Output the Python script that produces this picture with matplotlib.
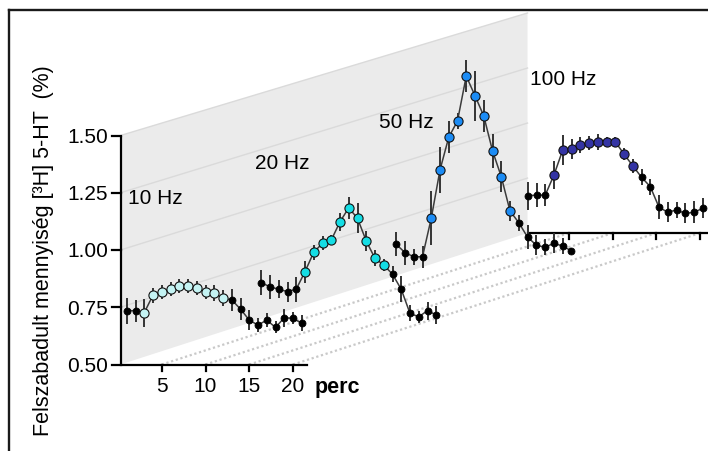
import matplotlib
matplotlib.use('Agg')
import matplotlib.pyplot as plt
from matplotlib.patches import Polygon
from matplotlib.lines import Line2D

plt.rcParams['font.family'] = ['Liberation Sans', 'DejaVu Sans']

# ---------------- data ----------------
minutes = list(range(1, 22))
hz_labels = ['10 Hz', '20 Hz', '50 Hz', '100 Hz']
y_ticks = [0.50, 0.75, 1.00, 1.25, 1.50]
y_tick_labels = ['0.50', '0.75', '1.00', '1.25', '1.50']
x_ticks = [5, 10, 15, 20]
x_tick_labels = ['5', '10', '15', '20']
x_unit = 'perc'
y_label = 'Felszabadult mennyiség [³H] 5-HT  (%)'

release_10 = [0.735, 0.735, 0.726, 0.803, 0.818, 0.828, 0.843, 0.843, 0.833, 0.818, 0.811,
              0.789, 0.782, 0.742, 0.694, 0.672, 0.694, 0.662, 0.704, 0.702, 0.680]
err_10 = [0.057, 0.048, 0.061, 0.033, 0.031, 0.031, 0.031, 0.031, 0.031, 0.031, 0.035,
          0.035, 0.048, 0.048, 0.044, 0.031, 0.031, 0.026, 0.039, 0.026, 0.035]
release_20 = [0.666, 0.648, 0.637, 0.627, 0.638, 0.714, 0.799, 0.838, 0.852, 0.932, 0.993,
              0.947, 0.848, 0.772, 0.743, 0.703, 0.637, 0.532, 0.517, 0.544, 0.525]
err_20 = [0.055, 0.052, 0.039, 0.044, 0.055, 0.048, 0.033, 0.031, 0.022, 0.039, 0.048,
          0.066, 0.044, 0.035, 0.026, 0.035, 0.057, 0.035, 0.026, 0.039, 0.039]
release_50 = [0.642, 0.606, 0.588, 0.588, 0.756, 0.967, 1.110, 1.181, 1.377, 1.291, 1.203,
              1.051, 0.938, 0.788, 0.737, 0.674, 0.639, 0.629, 0.647, 0.635, 0.614]
err_50 = [0.052, 0.052, 0.035, 0.048, 0.118, 0.100, 0.070, 0.035, 0.070, 0.109, 0.070,
          0.074, 0.066, 0.044, 0.035, 0.052, 0.044, 0.035, 0.044, 0.035, 0.013]
release_100 = [0.663, 0.666, 0.666, 0.754, 0.863, 0.867, 0.885, 0.892, 0.899, 0.899, 0.899,
               0.845, 0.794, 0.744, 0.703, 0.613, 0.591, 0.601, 0.586, 0.591, 0.608]
err_100 = [0.061, 0.052, 0.048, 0.061, 0.066, 0.044, 0.035, 0.031, 0.035, 0.022, 0.022,
           0.026, 0.031, 0.035, 0.035, 0.052, 0.044, 0.035, 0.044, 0.048, 0.044]
# stimulated samples (1-based, inclusive)
stim_10 = (3, 12)
stim_20 = (6, 15)
stim_50 = (5, 14)
stim_100 = (4, 13)

series = [
    (release_10, err_10, stim_10, '#c4f3f3'),
    (release_20, err_20, stim_20, '#14dde4'),
    (release_50, err_50, stim_50, '#1c8cf5'),
    (release_100, err_100, stim_100, '#3434a4'),
]

# ---------------- layout (pixels) ----------------
W, H = 708, 451
X0_PX = 118.0        # px of x=0 on the front axis
PX_PER_MIN = 8.75
Y05_PX = 364.5       # px of 0.50 on the front axis
PX_PER_UNIT = 229.0
SER_DX_PX = [0, 134.5, 269.5, 401.0]
SER_DY_PX = [0, 43.8, 87.6, 131.4]
WALL_LEFT_PX = 120.5
WALL_DX_PX = 407.0
WALL_TOP_BACK_PX = 13.0
AXIS_END_PX = 307.0


def fx(px):
    return (px - X0_PX) / PX_PER_MIN


def fy(py):
    return 0.5 + (Y05_PX - py) / PX_PER_UNIT


fig = plt.figure(figsize=(W / 100, H / 100), dpi=100)
ax = fig.add_axes([0, 0, 1, 1])
ax.set_xlim(fx(0), fx(W))
ax.set_ylim(fy(H), fy(0))
ax.axis('off')

ddx_w = WALL_DX_PX / PX_PER_MIN
ddy_w = SER_DY_PX[3] / PX_PER_UNIT
xl = fx(WALL_LEFT_PX)
top_back = fy(WALL_TOP_BACK_PX)
bot_back = 0.5 + ddy_w

# grey side wall
wall = Polygon([(xl, 0.5), (xl, 1.5), (xl + ddx_w, top_back), (xl + ddx_w, bot_back)],
               closed=True, facecolor='#ebebeb', edgecolor='none', zorder=0)
ax.add_patch(wall)
for lv in [0.75, 1.00, 1.25, 1.50]:
    yb = bot_back + (lv - 0.5) * (top_back - bot_back)
    ax.plot([xl, xl + ddx_w], [lv, yb], color='#dadada', lw=1.0, zorder=1)

# dotted floor lines
for t in x_ticks:
    ax.plot([t, t + ddx_w], [0.5, bot_back], color='#c9c9c9', lw=1.6,
            linestyle=(0, (1, 1.2)), zorder=1)

# front axes
ax.plot([xl, xl], [0.5, 1.5], color='black', lw=1.6, zorder=5, solid_capstyle='butt')
ax.plot([xl, fx(AXIS_END_PX)], [0.5, 0.5], color='black', lw=1.6, zorder=5)
for yt, lab in zip(y_ticks, y_tick_labels):
    ax.plot([xl - 9 / PX_PER_MIN, xl], [yt, yt], color='black', lw=1.6, zorder=5)
    ax.text(fx(108), yt - 7.4 / PX_PER_UNIT, lab, ha='right', va='baseline', fontsize=15)
for xt, lab in zip(x_ticks, x_tick_labels):
    ax.plot([xt, xt], [0.5, 0.5 - 6 / PX_PER_UNIT], color='black', lw=1.6, zorder=5)
    ax.text(xt, fy(392.5), lab, ha='center', va='baseline', fontsize=15)
ax.text(fx(314.5), fy(392.5), x_unit, ha='left', va='baseline', fontsize=15.5,
        fontweight='bold')

# back axis (100 Hz)
ax.plot([xl + ddx_w, fx(W + 5)], [bot_back, bot_back], color='black', lw=1.6, zorder=5)
for xt in x_ticks:
    ax.plot([xt + ddx_w, xt + ddx_w], [bot_back, bot_back - 6 / PX_PER_UNIT],
            color='black', lw=1.6, zorder=5)

# series (deepest first)
for d in [3, 2, 1, 0]:
    vals, errs, (s0, s1), col = series[d]
    dx = SER_DX_PX[d] / PX_PER_MIN
    dy = SER_DY_PX[d] / PX_PER_UNIT
    xs = [m + dx for m in minutes]
    ys = [v + dy for v in vals]
    z = 10 + (3 - d) * 4
    ax.errorbar(xs, ys, yerr=errs, fmt='none', ecolor='#333333', elinewidth=1.4,
                capsize=0, zorder=z)
    ax.plot(xs, ys, color='#3c3c3c', lw=1.1, zorder=z + 1)
    blk = [i for i, m in enumerate(minutes) if not (s0 <= m <= s1)]
    stm = [i for i, m in enumerate(minutes) if s0 <= m <= s1]
    ax.plot([xs[i] for i in blk], [ys[i] for i in blk], 'o', ms=5.0, mfc='black',
            mec='black', mew=0.6, zorder=z + 2)
    ax.plot([xs[i] for i in stm], [ys[i] for i in stm], 'o', ms=6.6, mfc=col,
            mec='#111111', mew=0.8, zorder=z + 2)

# frequency labels
hz_pos_px = [(128.5, 204.0), (255.0, 169.0), (379.0, 127.5), (530.5, 85.0)]
for lab, (px, py) in zip(hz_labels, hz_pos_px):
    ax.text(fx(px), fy(py), lab, ha='left', va='baseline', fontsize=15)

# y label
ax.text(fx(44), fy(251), y_label, rotation=90, ha='center', va='center', fontsize=15.5)

# frame
fig.add_artist(Line2D([9 / W, 9 / W], [-0.02, 1 - 10 / H], transform=fig.transFigure,
                      color='#1a1a1a', lw=1.7))
fig.add_artist(Line2D([9 / W, 1.02], [1 - 10 / H, 1 - 10 / H], transform=fig.transFigure,
                      color='#1a1a1a', lw=1.7))

fig.savefig('out.png', dpi=100)
